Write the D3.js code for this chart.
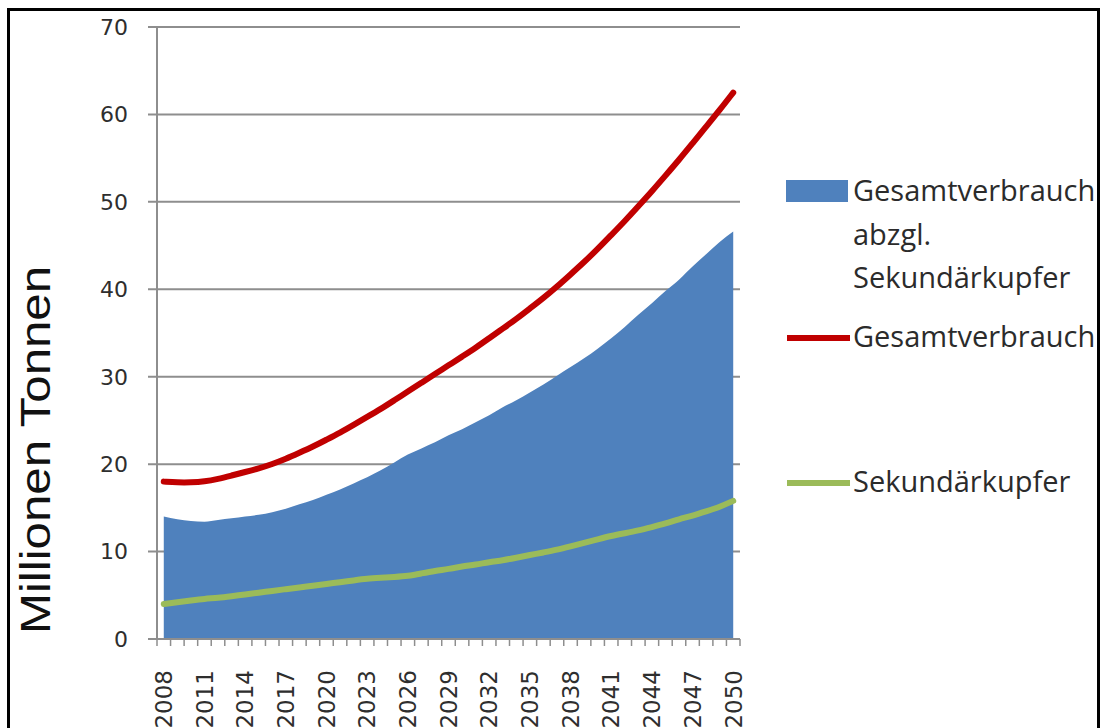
<!DOCTYPE html>
<html><head><meta charset="utf-8">
<script src="https://cdn.jsdelivr.net/npm/d3@7"></script>
<style>body{margin:0;background:#fff}svg{display:block}</style>
</head><body><script>
const years = [2008,2009,2010,2011,2012,2013,2014,2015,2016,2017,2018,2019,2020,2021,2022,2023,2024,2025,2026,2027,2028,2029,2030,2031,2032,2033,2034,2035,2036,2037,2038,2039,2040,2041,2042,2043,2044,2045,2046,2047,2048,2049,2050];
// Gesamtverbrauch (red line)
const gesamt = [18.0,17.9,17.9,18.0,18.3,18.7,19.1,19.5,20.0,20.6,21.3,22.0,22.8,23.6,24.5,25.4,26.3,27.3,28.3,29.3,30.3,31.3,32.3,33.3,34.4,35.5,36.6,37.8,39.0,40.3,41.7,43.1,44.6,46.2,47.8,49.5,51.2,53.0,54.8,56.7,58.6,60.5,62.5];
// Sekundärkupfer (green line)
const sekundaer = [4.0,4.2,4.4,4.6,4.7,4.9,5.1,5.3,5.5,5.7,5.9,6.1,6.3,6.5,6.7,6.9,7.0,7.1,7.2,7.5,7.8,8.0,8.3,8.5,8.8,9.0,9.3,9.6,9.9,10.2,10.6,11.0,11.4,11.8,12.1,12.4,12.8,13.2,13.7,14.1,14.6,15.1,15.8];
// Gesamtverbrauch abzgl. Sekundärkupfer (blue area)
const abzgl = [14.0,13.7,13.5,13.4,13.6,13.8,14.0,14.2,14.5,14.9,15.4,15.9,16.5,17.1,17.8,18.5,19.3,20.2,21.1,21.8,22.5,23.3,24.0,24.8,25.6,26.5,27.3,28.2,29.1,30.1,31.1,32.1,33.2,34.4,35.7,37.1,38.4,39.8,41.1,42.6,44.0,45.4,46.6];
const xTickLabels = [2008,2011,2014,2017,2020,2023,2026,2029,2032,2035,2038,2041,2044,2047,2050];
const yTicks = [0,10,20,30,40,50,60,70];
const yTitle = "Millionen Tonnen";
const legendArea = ["Gesamtverbrauch","abzgl.","Sekundärkupfer"];
const legendRed = "Gesamtverbrauch";
const legendGreen = "Sekundärkupfer";

const W = 1107, H = 728;
const svg = d3.select("body").append("svg").attr("width", W).attr("height", H);

// outer frame
svg.append("rect").attr("x", 8.5).attr("y", 9.5).attr("width", 1090).attr("height", 760)
  .attr("fill", "none").attr("stroke", "#000").attr("stroke-width", 3);

const x = d3.scaleBand().domain(years).range([157, 740]).padding(0);
const cx = d => x(d) + x.bandwidth() / 2;
const y = d3.scaleLinear().domain([0, 70]).range([639, 27]);
const gridCol = "#8e8e8e";

// gridlines
svg.append("g").selectAll("line").data(yTicks.filter(v => v > 0)).join("line")
  .attr("x1", 148).attr("x2", 740).attr("y1", d => y(d)).attr("y2", d => y(d))
  .attr("stroke", gridCol).attr("stroke-width", 2);

// area
const areaData = years.map((yr, i) => ({yr, v: abzgl[i]}));
svg.append("path").datum(areaData)
  .attr("d", d3.area().x(d => cx(d.yr)).y0(y(0)).y1(d => y(d.v)).curve(d3.curveMonotoneX))
  .attr("fill", "#4f81bd");

// axes
svg.append("line").attr("x1", 157).attr("x2", 157).attr("y1", y(70)).attr("y2", y(0))
  .attr("stroke", gridCol).attr("stroke-width", 2);
svg.append("line").attr("x1", 148).attr("x2", 740).attr("y1", y(0)).attr("y2", y(0))
  .attr("stroke", gridCol).attr("stroke-width", 2);
const bounds = years.map(yr => x(yr)).concat([x(years[years.length - 1]) + x.bandwidth()]);
svg.append("g").selectAll("line").data(bounds).join("line")
  .attr("x1", d => d).attr("x2", d => d).attr("y1", y(0)).attr("y2", y(0) + 7)
  .attr("stroke", gridCol).attr("stroke-width", 1.5);

// lines
const lineGen = d3.line().x((d, i) => cx(years[i])).y(d => y(d)).curve(d3.curveBasis);
svg.append("path").datum(sekundaer).attr("d", lineGen)
  .attr("fill", "none").attr("stroke", "#9bbb59").attr("stroke-width", 6).attr("stroke-linecap", "round");
svg.append("path").datum(gesamt).attr("d", lineGen)
  .attr("fill", "none").attr("stroke", "#c00000").attr("stroke-width", 6).attr("stroke-linecap", "round");

// y tick labels
svg.append("g").selectAll("text").data(yTicks).join("text")
  .attr("x", 128).attr("y", d => y(d)).attr("dy", "0.36em")
  .attr("text-anchor", "end")
  .style("font-family", "DejaVu Sans").style("font-size", "22px").attr("fill", "#2e2e2e")
  .text(d => d);

// x tick labels
svg.append("g").selectAll("text").data(xTickLabels).join("text")
  .attr("transform", d => `translate(${cx(d)},670) rotate(-90)`)
  .attr("dy", "0.36em").attr("text-anchor", "end")
  .style("font-family", "DejaVu Sans").style("font-size", "23px").attr("fill", "#2e2e2e")
  .text(d => d);

// y title
svg.append("text").attr("transform", "translate(50,450) rotate(-90)")
  .attr("text-anchor", "middle")
  .style("font-family", "Liberation Sans, Arial").style("font-size", "43px").attr("fill", "#111")
  .attr("textLength", 368).attr("lengthAdjust", "spacingAndGlyphs")
  .text(yTitle);

// legend
const lg = svg.append("g");
const lf = t => t.style("font-family", "Open Sans").style("font-size", "29px").attr("fill", "#2b2b2b");
lg.append("rect").attr("x", 786).attr("y", 180).attr("width", 62).attr("height", 22).attr("fill", "#4f81bd");
lg.selectAll("text.a").data(legendArea).join("text").attr("class", "a")
  .attr("x", 853).attr("y", (d, i) => 201 + i * 43.5).text(d => d).call(lf);
lg.append("line").attr("x1", 787).attr("x2", 850).attr("y1", 338).attr("y2", 338)
  .attr("stroke", "#c00000").attr("stroke-width", 6);
lg.append("text").attr("x", 853).attr("y", 347).text(legendRed).call(lf);
lg.append("line").attr("x1", 787).attr("x2", 850).attr("y1", 483).attr("y2", 483)
  .attr("stroke", "#9bbb59").attr("stroke-width", 6);
lg.append("text").attr("x", 853).attr("y", 492).text(legendGreen).call(lf);
</script></body></html>
